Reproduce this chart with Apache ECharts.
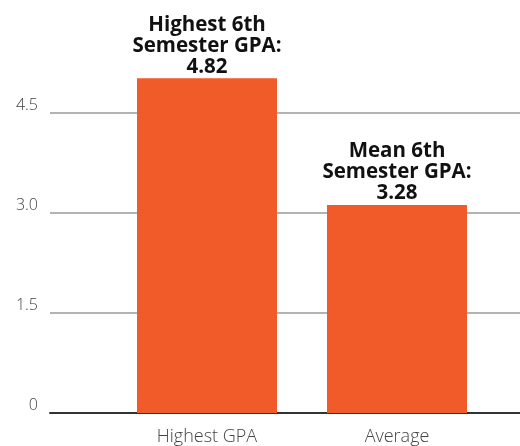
<!DOCTYPE html>
<html>
<head>
<meta charset="utf-8">
<script src="https://cdn.jsdelivr.net/npm/echarts@6/dist/echarts.min.js"></script>
<style>
  html, body { margin: 0; padding: 0; background: #fff; }
  #chart { width: 520px; height: 446px; }
</style>
</head>
<body>
<div id="chart"></div>
<script>
// values
var categories = ['Highest GPA', 'Average'];
var barValues = [5.02, 3.12];          // drawn bar heights
var labelHeads = ['Highest 6th\nSemester GPA:', 'Mean 6th\nSemester GPA:'];
var labelValues = ['4.82', '3.28'];
var yTicks = { min: 0, max: 6, interval: 1.5 };

var orange = '#f15a29';
var font = 'Open Sans';

var myChart = echarts.init(document.getElementById('chart'));

myChart.setOption({
    animation: false,
    grid: [
        // wide grid for the gridlines and the baseline
        { left: 50, right: 0, top: 13, bottom: 33 },
        // narrower grid holding the bars
        { left: 112, right: 28, top: 13, bottom: 33 }
    ],
    xAxis: [
        {
            type: 'category',
            gridIndex: 0,
            data: categories,
            axisLine: { lineStyle: { color: '#333', width: 2 } },
            axisTick: { show: false },
            axisLabel: { show: false }
        },
        {
            type: 'category',
            gridIndex: 1,
            data: categories,
            axisLine: { show: false },
            axisTick: { show: false },
            axisLabel: {
                margin: 15,
                fontFamily: font,
                fontWeight: 300,
                fontSize: 18,
                color: '#444'
            }
        }
    ],
    yAxis: [
        {
            type: 'value',
            gridIndex: 0,
            min: yTicks.min,
            max: yTicks.max,
            interval: yTicks.interval,
            axisLine: { show: false },
            axisTick: { show: false },
            axisLabel: {
                margin: 12,
                fontFamily: font,
                fontWeight: 300,
                fontSize: 16,
                color: '#444',
                verticalAlign: 'bottom',
                showMaxLabel: false,
                formatter: function (v) { return v === 0 ? '0' : v.toFixed(1); }
            },
            splitLine: {
                showMinLine: false,
                showMaxLine: false,
                lineStyle: { color: '#b3b3b3', width: 2 }
            }
        },
        {
            type: 'value',
            gridIndex: 1,
            min: yTicks.min,
            max: yTicks.max,
            interval: yTicks.interval,
            show: false,
            splitLine: { show: false }
        }
    ],
    series: [
        {
            type: 'bar',
            xAxisIndex: 1,
            yAxisIndex: 1,
            barWidth: 140,
            data: barValues,
            itemStyle: { color: orange },
            label: {
                show: true,
                position: 'top',
                distance: 1,
                fontFamily: font,
                fontWeight: 'bold',
                fontSize: 20.5,
                lineHeight: 21,
                color: '#111',
                align: 'center',
                formatter: function (p) {
                    return labelHeads[p.dataIndex] + '\n' + labelValues[p.dataIndex];
                }
            }
        }
    ]
});
</script>
</body>
</html>
